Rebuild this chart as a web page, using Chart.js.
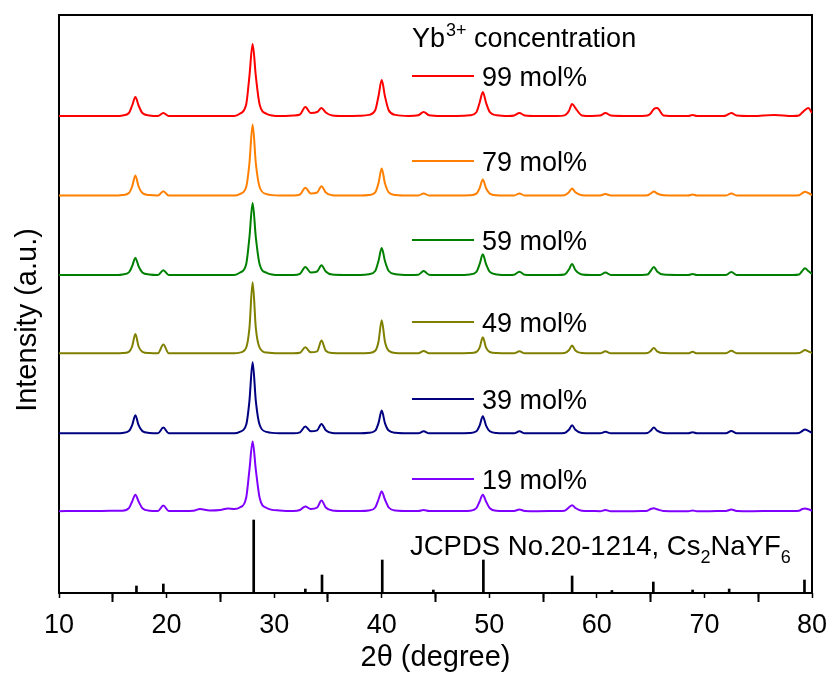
<!DOCTYPE html>
<html>
<head>
<meta charset="utf-8">
<script src="https://cdn.jsdelivr.net/npm/chart.js@4"></script>
<style>
html,body{margin:0;padding:0;background:#fff;}
#wrap{width:830px;height:673px;}
</style>
</head>
<body>
<div id="wrap"><canvas id="c" width="830" height="673"></canvas></div>
<script>
// 2θ sampling positions (degrees) shared by all patterns
const twoTheta = [
  10, 12, 14, 15.5,
  15.9, 16.5, 16.8, 17.1, 17.4, 17.75, 18.4,
  19.2, 19.7, 20.2,
  21.5, 22.5, 23.1, 24.0, 25.0, 25.7, 26.3,
  26.8, 27.4, 27.7, 28.0, 28.3, 28.65, 29.3,
  30.5, 31.8,
  32.4, 32.9, 33.4,
  34.0, 34.4, 34.8, 35.4,
  36.5, 38.0,
  38.8, 39.4, 39.7, 40.0, 40.3, 40.65, 41.3,
  42.5,
  43.4, 43.9, 44.4,
  45.5, 47.0,
  48.2, 48.8, 49.1, 49.4, 49.7, 50.05, 50.7,
  51.8,
  52.3, 52.8, 53.3,
  54.5, 56.3,
  57.0, 57.4, 57.7, 58.0, 58.6,
  59.5,
  60.3, 60.8, 61.3,
  62.5, 64.2,
  64.7, 65.0, 65.3, 65.6, 66.2,
  67.5,
  68.5, 68.9, 69.3,
  70.5, 71.8,
  72.0, 72.5, 73.0,
  74.5, 76.5, 78.2,
  78.8, 79.05, 79.35, 79.65, 80.0
];

// Intensities above each pattern's own baseline (a.u.)
const yb99 = [
  0, 0, 0, 0,
  0.6, 3.0, 10.5, 19, 10.5, 3.0, 0.6,
  0, 3, 0,
  0, 0, 0, 0, 0, 0, 0,
  2.2, 11.5, 39.6, 72, 39.6, 11.5, 2.2,
  0, 0.5,
  1.5, 9, 3,
  4, 8, 3.5, 0.5,
  0, 0.3,
  1.1, 5.8, 19.8, 36, 19.8, 5.8, 1.1,
  0,
  0.8, 4, 0.8,
  0, 0,
  0.7, 3.8, 13.2, 24, 13.2, 3.8, 0.7,
  0,
  0.5, 3, 0.5,
  0, 0,
  0.6, 5, 12, 8, 0.6,
  0,
  0.4, 3, 0.4,
  0, 0,
  0.4, 2.5, 7, 8, 0.6,
  0,
  0, 1, 0,
  0, 0,
  0.5, 3, 0.5,
  0, 1, 0,
  0.5, 3, 6, 8, 3
];
const yb79 = [
  0, 0, 0, 0,
  0.4, 2.4, 9, 20, 9, 2.4, 0.4,
  0, 4.3, 0,
  0, 0, 0, 0, 0, 0, 0,
  1.4, 8.5, 32, 71, 32, 8.5, 1.4,
  0, 0,
  1, 7.7, 2,
  3, 9.3, 3, 0.3,
  0, 0,
  0.5, 3.2, 12.2, 27, 12.2, 3.2, 0.5,
  0,
  0, 2, 0,
  0, 0,
  0.3, 1.9, 7.2, 16, 7.2, 1.9, 0.3,
  0,
  0, 2, 0,
  0, 0,
  0.3, 3.2, 7, 3.2, 0.3,
  0,
  0, 1.5, 0,
  0, 0,
  0.2, 2, 4, 2, 0.2,
  0,
  0, 1, 0,
  0, 0,
  0, 2, 0,
  0, 0, 0,
  0.3, 2, 3.7, 2.5, 0.5
];
const yb59 = [
  0, 0, 0, 0,
  0.5, 2.6, 8.8, 17, 8.8, 2.6, 0.5,
  0, 4.7, 0,
  0, 0, 0, 0, 0, 0, 0,
  2.2, 10.8, 37.4, 72, 37.4, 10.8, 2.2,
  0, 0,
  1.2, 8, 2.5,
  3.5, 9.7, 3.5, 0.4,
  0, 0,
  0.8, 4, 14, 27, 14, 4, 0.8,
  0,
  0.3, 4, 0.3,
  0, 0,
  0.6, 3.1, 10.8, 20.7, 10.8, 3.1, 0.6,
  0,
  0.3, 3.3, 0.3,
  0, 0,
  0.5, 5.5, 11, 5, 0.5,
  0,
  0, 2.5, 0,
  0, 0,
  0.4, 4, 8, 3.6, 0.4,
  0,
  0, 1, 0,
  0, 0,
  0, 3, 0,
  0, 0, 0,
  0.5, 3.5, 6.7, 4, 1
];
const yb49 = [
  0, 0, 0, 0,
  0.2, 1.5, 6.8, 19.3, 6.8, 1.5, 0.2,
  0, 8.7, 0,
  0, 0, 0, 0, 0, 0, 0,
  0.7, 5.7, 24.9, 71, 24.9, 5.7, 0.7,
  0, 0,
  0.5, 6, 1,
  2, 12.7, 2.5, 0.2,
  0, 0,
  0.3, 2.6, 11.6, 33, 11.6, 2.6, 0.3,
  0,
  0, 2.3, 0,
  0, 0,
  0.2, 1.3, 5.6, 16, 5.6, 1.3, 0.2,
  0,
  0, 2, 0,
  0, 0,
  0.2, 3, 7.7, 2.8, 0.2,
  0,
  0, 2, 0,
  0, 0,
  0.2, 2.2, 5.3, 2, 0.2,
  0,
  0, 1.5, 0,
  0, 0,
  0, 2.5, 0,
  0, 0, 0,
  0.2, 1.5, 3.3, 2, 0.3
];
const yb39 = [
  0, 0, 0, 0,
  0.4, 2.2, 8.1, 18, 8.1, 2.2, 0.4,
  0, 5.7, 0,
  0, 0, 0, 0, 0, 0, 0,
  1.4, 8.5, 32, 71, 32, 8.5, 1.4,
  0, 0,
  1, 6.7, 2,
  3, 9.3, 3, 0.3,
  0, 0,
  0.5, 2.7, 10.2, 22.7, 10.2, 2.7, 0.5,
  0,
  0, 2, 0,
  0, 0,
  0.3, 2, 7.7, 17, 7.7, 2, 0.3,
  0,
  0, 2, 0,
  0, 0,
  0.4, 3.6, 8, 3.6, 0.4,
  0,
  0, 1.5, 0,
  0, 0,
  0.3, 2.6, 5.7, 2.6, 0.3,
  0,
  0, 1, 0,
  0, 0,
  0, 2.3, 0,
  0, 0, 0,
  0.3, 2, 3.7, 2.5, 0.5
];
const yb19 = [
  0.3, 0.5, 0.5, 0.8,
  0.8, 3.3, 10, 16.7, 10, 3.3, 0.8,
  0.5, 6, 0.5,
  0.5, 0.8, 2.5, 1, 1.5, 3, 2.5,
  4, 13.8, 41.4, 70, 41.4, 13.8, 3.5,
  1, 0.5,
  1.5, 5, 2.5,
  4, 11, 4, 1,
  0.5, 0.5,
  1, 4, 12, 20, 12, 4, 1,
  0.5,
  0.5, 1.5, 0.5,
  0.5, 0.5,
  0.8, 3.3, 10, 16.7, 10, 3.3, 0.8,
  0.5,
  0.5, 2, 0.5,
  0.3, 0.5,
  0.8, 4, 6.3, 3.5, 0.8,
  0.5,
  0.3, 1.5, 0.3,
  0.3, 0.5,
  0.8, 2.5, 3.3, 2.2, 0.5,
  0.3,
  0.3, 1, 0.3,
  0.3, 0.5,
  0.5, 2, 0.5,
  0.3, 0.5, 0.5,
  0.8, 2.2, 3, 2.2, 0.8
];

// vertical stacking offsets of the patterns (a.u.)
const seriesOffsets = [477, 397.5, 318, 239.7, 159.7, 81.5];
const seriesLabels = ['99 mol%', '79 mol%', '59 mol%', '49 mol%', '39 mol%', '19 mol%'];

// JCPDS No.20-1214 reference lines
const jcpdsPos = [17.2, 19.7, 28.1, 32.9, 34.45, 40.05, 44.8, 49.45, 57.7, 61.4, 65.25, 68.9, 72.3, 79.3];
const jcpdsInt = [7, 9, 73, 4, 18, 33, 3, 33, 17, 2.5, 11, 3, 4, 13];

const xMin = 10, xMax = 80, xMajorStep = 10, xMinorStep = 5;
const yMin = 0, yMax = 578;

const FONT = "'Liberation Sans', Arial, sans-serif";
const colors = ['#ff0000', '#ff8000', '#008000', '#808000', '#000080', '#8000ff'];
const seriesValues = [yb99, yb79, yb59, yb49, yb39, yb19];

const datasets = seriesValues.map((vals, k) => ({
  type: 'line',
  label: seriesLabels[k],
  data: twoTheta.map((x, i) => ({ x: x, y: seriesOffsets[k] + vals[i] })),
  borderColor: colors[k],
  borderWidth: 2,
  pointRadius: 0,
  fill: false,
  cubicInterpolationMode: 'monotone',
  xAxisID: 'x',
  yAxisID: 'y'
}));
datasets.push({
  type: 'bar',
  label: 'JCPDS No.20-1214',
  data: jcpdsPos.map((x, i) => ({ x: x, y: jcpdsInt[i] })),
  backgroundColor: '#000',
  borderWidth: 0,
  barThickness: 2,
  grouped: false,
  xAxisID: 'x',
  yAxisID: 'y'
});

const legendY = [76, 161, 240, 322, 399, 479];

const annotate = {
  id: 'annotate',
  afterDatasetsDraw(chart) {
    const ctx = chart.ctx;
    ctx.save();
    ctx.fillStyle = '#000';
    ctx.textAlign = 'left';
    ctx.textBaseline = 'alphabetic';
    // heading
    let x = 412;
    ctx.font = '27px ' + FONT;
    ctx.fillText('Yb', x, 47);
    x += ctx.measureText('Yb').width + 1;
    ctx.font = '18px ' + FONT;
    ctx.fillText('3+', x, 36);
    x += ctx.measureText('3+').width;
    ctx.font = '27px ' + FONT;
    ctx.fillText(' concentration', x, 47);
    // legend entries
    legendY.forEach((y, k) => {
      ctx.strokeStyle = colors[k];
      ctx.lineWidth = 2;
      ctx.beginPath();
      ctx.moveTo(412, y);
      ctx.lineTo(474, y);
      ctx.stroke();
      ctx.fillStyle = '#000';
      ctx.font = '27px ' + FONT;
      ctx.fillText(seriesLabels[k], 482, y + 10);
    });
    // reference label
    x = 410;
    const by = 555;
    const parts = [['JCPDS No.20-1214, Cs', 0], ['2', 1], ['NaYF', 0], ['6', 1]];
    parts.forEach(([t, sub]) => {
      ctx.font = (sub ? '18px ' : '27.5px ') + FONT;
      ctx.fillText(t, x, sub ? by + 8 : by);
      x += ctx.measureText(t).width;
    });
    // y axis title
    ctx.save();
    ctx.translate(28, 320);
    ctx.rotate(-Math.PI / 2);
    ctx.textAlign = 'center';
    ctx.textBaseline = 'middle';
    ctx.font = '29px ' + FONT;
    ctx.fillText('Intensity (a.u.)', 0, 0);
    ctx.restore();
    ctx.restore();
  }
};

new Chart(document.getElementById('c'), {
  type: 'line',
  data: { datasets: datasets },
  options: {
    responsive: false,
    animation: false,
    devicePixelRatio: 1,
    events: [],
    layout: { padding: { left: 0, top: 15, right: 18, bottom: 0 } },
    plugins: { legend: { display: false }, tooltip: { enabled: false } },
    scales: {
      x: {
        type: 'linear',
        position: 'bottom',
        min: xMin, max: xMax,
        offset: false,
        ticks: {
          stepSize: xMajorStep,
          color: '#000',
          padding: 10,
          maxRotation: 0,
          font: { family: FONT, size: 27, lineHeight: 1 }
        },
        grid: { drawOnChartArea: false, drawTicks: true, tickLength: 9, tickWidth: 2, tickColor: '#000' },
        border: { display: true, color: '#000', width: 2 },
        title: {
          display: true, text: '2θ (degree)', color: '#000',
          font: { family: FONT, size: 29, lineHeight: 1 },
          padding: { top: 0, bottom: 1 }
        },
        afterFit(s) { s.height = 80; s.paddingLeft = 0; s.paddingRight = 0; }
      },
      xMinor: {
        type: 'linear',
        position: { y: 0 },
        min: xMin, max: xMax,
        offset: false,
        ticks: { stepSize: xMinorStep, display: false },
        grid: { drawOnChartArea: false, drawTicks: true, tickLength: 5, tickWidth: 1.5, tickColor: '#000' },
        border: { display: false },
        afterFit(s) { s.paddingLeft = 0; s.paddingRight = 0; }
      },
      xTop: {
        type: 'linear',
        position: 'top',
        min: xMin, max: xMax,
        ticks: { display: false },
        grid: { display: false, drawTicks: false },
        border: { display: true, color: '#000', width: 2 },
        afterFit(s) { s.height = 0; s.paddingLeft = 0; s.paddingRight = 0; }
      },
      y: {
        type: 'linear',
        position: 'left',
        min: yMin, max: yMax,
        ticks: { display: false },
        grid: { display: false, drawTicks: false },
        border: { display: true, color: '#000', width: 2 },
        title: { display: false },
        afterFit(s) { s.width = 59; }
      },
      yRight: {
        type: 'linear',
        position: 'right',
        min: yMin, max: yMax,
        ticks: { display: false },
        grid: { display: false, drawTicks: false },
        border: { display: true, color: '#000', width: 2 },
        afterFit(s) { s.width = 0; }
      }
    }
  },
  plugins: [annotate]
});
</script>
</body>
</html>
